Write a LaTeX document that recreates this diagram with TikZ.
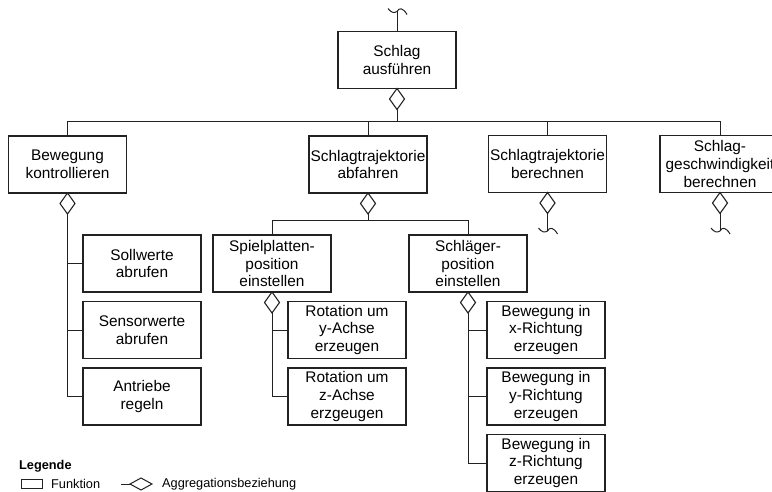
\documentclass[tikz,border=0pt]{standalone}
\usepackage{fontspec}
\setmainfont{Liberation Sans}
\usetikzlibrary{shapes.geometric}
\definecolor{ink}{HTML}{222222}
\begin{document}
\begin{tikzpicture}[x=1pt,y=-1pt,
  func/.style={draw=ink, fill=white, line width=1.1pt, minimum width=118pt,
    minimum height=57pt, inner sep=1pt, outer sep=0pt, align=center,
    font=\fontsize{15.4}{17.8}\selectfont},
  agg/.style={diamond, draw=ink, fill=white, line width=1.1pt, minimum width=15pt,
    minimum height=21pt, inner sep=0pt, outer sep=0pt, anchor=north},
  link/.style={draw=ink, line width=1pt},
  cont/.pic={\draw[link] (-9,-3) .. controls (-6,1) and (-3,2) .. (0,0)
    .. controls (2,-4) and (6,-4) .. (10,3);},
  legtext/.style={font=\fontsize{12.75}{15}\selectfont, inner sep=0pt, anchor=west},
]
\clip (0,0) rectangle (772,492);
\useasboundingbox (0,0) rectangle (772,492);

% top level
\node[func] (sa) at (397,60) {Schlag\\ausführen};
\node[agg] (sa-d) at (sa.south) {};
\coordinate (sa-in) at (397,11.5);
\draw[link] (sa.north) -- (sa-in);
\pic at (sa-in) {cont};

% second level
\node[func] (bk) at (67.5,164.5) {Bewegung\\kontrollieren};
\node[func] (sta) at (368,164.5) {Schlagtrajektorie\\abfahren};
\node[func] (stb) at (547.5,164) {Schlagtrajektorie\\berechnen};
\node[func, minimum width=120pt] (sgb) at (720,164) {Schlag-\\geschwindigkeit\\berechnen};

\coordinate (bus0) at (397,121.5);
\draw[link] (sa-d.south) -- (bus0);
\foreach \n in {bk,sta,stb,sgb} \draw[link] (\n.north) |- (bus0);

\foreach \n in {bk,sta,stb,sgb} \node[agg] (\n-d) at (\n.south) {};

% open continuations
\coordinate (stb-out) at (547.5,231);
\coordinate (sgb-out) at (720,231);
\draw[link] (stb-d.south) -- (stb-out);
\draw[link] (sgb-d.south) -- (sgb-out);
\pic at (stb-out) {cont};
\pic at (sgb-out) {cont};

% Bewegung kontrollieren
\node[func] (sw) at (142,263.5) {Sollwerte\\abrufen};
\node[func] (sen) at (142,330) {Sensorwerte\\abrufen};
\node[func] (ar) at (142,396.5) {Antriebe\\regeln};
\foreach \n in {sw,sen,ar} \draw[link] (bk-d.south) |- (\n.west);

% Schlagtrajektorie abfahren
\node[func] (sp) at (272,263.5) {Spielplatten-\\position\\einstellen};
\node[func] (sg) at (468,263.5) {Schläger-\\position\\einstellen};
\coordinate (bus1) at (368,221);
\draw[link] (sta-d.south) -- (bus1);
\foreach \n in {sp,sg} \draw[link] (\n.north) |- (bus1);
\foreach \n in {sp,sg} \node[agg] (\n-d) at (\n.south) {};

\node[func] (ry) at (347,330) {Rotation um\\y-Achse\\erzeugen};
\node[func] (rz) at (347,396.5) {Rotation um\\z-Achse\\erzgeugen};
\foreach \n in {ry,rz} \draw[link] (sp-d.south) |- (\n.west);

\node[func] (bx) at (546,330) {Bewegung in\\x-Richtung\\erzeugen};
\node[func] (by) at (546,396.5) {Bewegung in\\y-Richtung\\erzeugen};
\node[func] (bz) at (546,463) {Bewegung in\\z-Richtung\\erzeugen};
\foreach \n in {bx,by,bz} \draw[link] (sg-d.south) |- (\n.west);

% legend
\node[legtext, font=\fontsize{12.75}{15}\selectfont\bfseries] (leg) at (19,466) {Legende};
\node[draw=ink, line width=1pt, minimum width=21pt, minimum height=8.5pt, inner sep=0pt] (lf) at (31.5,484) {};
\node[legtext] (lft) at (51,484) {Funktion};
\coordinate (la) at (121,484);
\node[diamond, draw=ink, fill=white, line width=1pt, minimum width=22pt, minimum height=12pt,
  inner sep=0pt, outer sep=0pt, anchor=west] (ld) at (130,484) {};
\draw[link] (la) -- (ld.west);
\node[legtext] (ldt) at (162,484) {Aggregationsbeziehung};
\end{tikzpicture}
\end{document}
